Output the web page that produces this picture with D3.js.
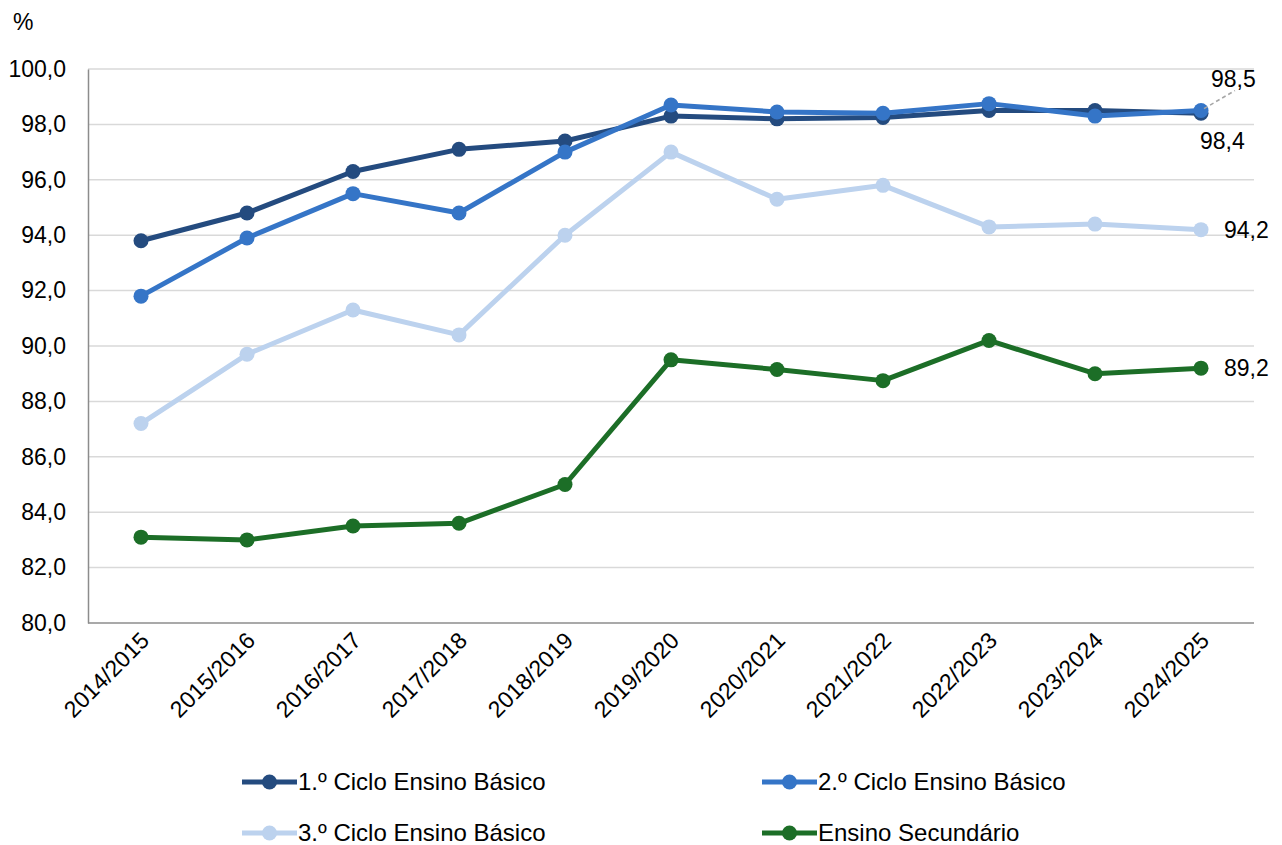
<!DOCTYPE html>
<html>
<head>
<meta charset="utf-8">
<script src="https://cdn.jsdelivr.net/npm/d3@7"></script>
<style>
  html, body { margin: 0; padding: 0; background: #fff; }
  svg text { font-family: "Liberation Sans", Arial, sans-serif; fill: #000; }
</style>
</head>
<body>
<svg id="chart" width="1282" height="845"></svg>
<script>
// School years on the x axis
const years = ["2014/2015","2015/2016","2016/2017","2017/2018","2018/2019","2019/2020",
               "2020/2021","2021/2022","2022/2023","2023/2024","2024/2025"];

// Rates (%) per level of education
const ciclo1 = [93.8, 94.8, 96.3, 97.1, 97.4, 98.3, 98.2, 98.25, 98.5, 98.5, 98.4];
const ciclo2 = [91.8, 93.9, 95.5, 94.8, 97.0, 98.7, 98.45, 98.4, 98.75, 98.3, 98.5];
const ciclo3 = [87.2, 89.7, 91.3, 90.4, 94.0, 97.0, 95.3, 95.8, 94.3, 94.4, 94.2];
const secundario = [83.1, 83.0, 83.5, 83.6, 85.0, 89.5, 89.15, 88.75, 90.2, 89.0, 89.2];

const seriesNames = ["1.º Ciclo Ensino Básico", "2.º Ciclo Ensino Básico",
                     "3.º Ciclo Ensino Básico", "Ensino Secundário"];
const seriesColors = ["#244b7f", "#3575c7", "#bcd2ee", "#1c6e27"];
const yTicks = [80, 82, 84, 86, 88, 90, 92, 94, 96, 98, 100];

const series = [ciclo1, ciclo2, ciclo3, secundario].map((v, i) => ({
  name: seriesNames[i], color: seriesColors[i], values: v
}));

const svg = d3.select("#chart");
const plot = { left: 88, right: 1254, top: 69, bottom: 623 };

const x = d3.scalePoint().domain(years).range([plot.left, plot.right]).padding(0.5);
const y = d3.scaleLinear().domain([80, 100]).range([plot.bottom, plot.top]);

const fmt = v => d3.format(".1f")(v).replace(".", ",");
const FONT = "Liberation Sans, Arial, sans-serif";

// Horizontal gridlines
svg.append("g").selectAll("line").data(yTicks.filter(t => t > 80)).join("line")
  .attr("x1", plot.left).attr("x2", plot.right)
  .attr("y1", d => y(d)).attr("y2", d => y(d))
  .attr("stroke", "#d9d9d9").attr("stroke-width", 1.5);

// Y axis
const yAxis = svg.append("g").attr("transform", `translate(${plot.left},0)`)
  .call(d3.axisLeft(y).tickValues(yTicks).tickFormat(fmt).tickSize(0).tickPadding(22));
yAxis.select(".domain").attr("stroke", "#8c8c8c").attr("stroke-width", 1.5);
yAxis.selectAll("text").style("font-size", "23px").style("font-family", FONT);

// X axis
const xAxis = svg.append("g").attr("transform", `translate(0,${plot.bottom})`)
  .call(d3.axisBottom(x).tickSize(0).tickSizeOuter(0));
xAxis.select(".domain").attr("stroke", "#8c8c8c").attr("stroke-width", 1.5)
  .attr("d", `M${plot.left},0H${plot.right}`);
xAxis.selectAll("text")
  .style("font-size", "23px").style("font-family", FONT)
  .attr("text-anchor", "end")
  .attr("dy", null).attr("y", 0)
  .attr("transform", "translate(9,19) rotate(-45)");

// "%" unit label
svg.append("text").attr("x", 13).attr("y", 30).style("font-size", "23px").text("%");

// Lines and markers
const line = d3.line().x((d, i) => x(years[i])).y(d => y(d));
series.forEach(s => {
  const g = svg.append("g");
  g.append("path").datum(s.values).attr("d", line)
    .attr("fill", "none").attr("stroke", s.color).attr("stroke-width", 5)
    .attr("stroke-linejoin", "round");
  g.selectAll("circle").data(s.values).join("circle")
    .attr("cx", (d, i) => x(years[i])).attr("cy", d => y(d)).attr("r", 7.5)
    .attr("fill", s.color);
});

// End-of-series value labels
const last = years.length - 1;
const xl = x(years[last]);
// 2.º ciclo label with leader line
svg.append("line")
  .attr("x1", xl + 3).attr("y1", y(ciclo2[last]) - 2)
  .attr("x2", xl + 34).attr("y2", y(ciclo2[last]) - 20)
  .attr("stroke", "#a6a6a6").attr("stroke-width", 1.5).attr("stroke-dasharray", "4,3");
svg.append("text").attr("x", xl + 10).attr("y", y(ciclo2[last]) - 24)
  .style("font-size", "23px").text(fmt(ciclo2[last]));
svg.append("text").attr("x", xl - 1).attr("y", y(ciclo1[last]) + 36)
  .style("font-size", "23px").text(fmt(ciclo1[last]));
svg.append("text").attr("x", xl + 23).attr("y", y(ciclo3[last])).attr("dy", "0.35em")
  .style("font-size", "23px").text(fmt(ciclo3[last]));
svg.append("text").attr("x", xl + 23).attr("y", y(secundario[last])).attr("dy", "0.35em")
  .style("font-size", "23px").text(fmt(secundario[last]));

// Legend
const legendPos = [[242, 782], [762, 782], [242, 833], [762, 833]];
series.forEach((s, i) => {
  const [lx, ly] = legendPos[i];
  const g = svg.append("g").attr("transform", `translate(${lx},${ly})`);
  g.append("line").attr("x1", 0).attr("x2", 55).attr("y1", 0).attr("y2", 0)
    .attr("stroke", s.color).attr("stroke-width", 5);
  g.append("circle").attr("cx", 27.5).attr("cy", 0).attr("r", 7.5).attr("fill", s.color);
  g.append("text").attr("x", 56).attr("y", 0).attr("dy", "0.35em")
    .style("font-size", "24px").text(s.name);
});
</script>
</body>
</html>
